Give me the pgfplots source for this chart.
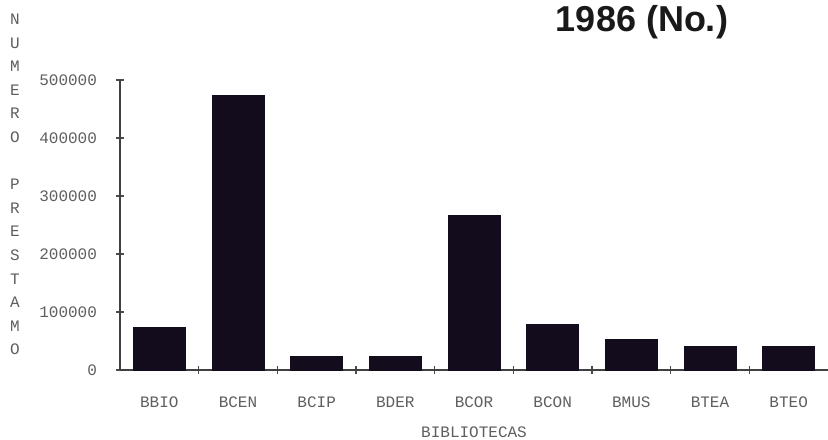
\documentclass[border=0pt]{standalone}
\usepackage{fontspec}
\setmainfont{Liberation Sans}
\setmonofont{Liberation Mono}
\usepackage{pgfplots}
\pgfplotsset{compat=1.18}
\definecolor{barc}{RGB}{18,12,28}
\definecolor{txt}{RGB}{95,95,95}
\begin{document}
\begin{tikzpicture}
\useasboundingbox (0,0) rectangle (414pt,219.5pt);
\begin{axis}[
  at={(60pt,34.5pt)}, anchor=south west,
  scale only axis, width=354pt, height=145pt,
  xmin=-0.5, xmax=8.5, ymin=0, ymax=500000,
  axis x line*=bottom, axis y line*=left,
  axis line style={black!75, line width=0.7pt, -},
  xtick={0,...,8},
  xticklabels={BBIO,BCEN,BCIP,BDER,BCOR,BCON,BMUS,BTEA,BTEO},
  minor xtick={0.5,1.5,...,7.5},
  ytick={0,100000,200000,300000,400000,500000},
  yticklabels={0,100000,200000,300000,400000,500000},
  scaled y ticks=false,
  tick align=center,
  x tick style={draw=none},
  minor x tick style={draw=black!70, line width=0.6pt},
  minor tick length=4pt,
  y tick style={draw=black!70, line width=0.6pt},
  major tick length=4pt,
  ticklabel style={font=\ttfamily\fontsize{8}{9}\selectfont, text=txt},
  xticklabel style={yshift=-8pt},
  yticklabel style={xshift=-6pt},
  clip=false,
]
\addplot[ybar, bar width=0.66, fill=barc, draw=barc] coordinates {
  (0,73000) (1,474000) (2,23000) (3,24000) (4,267000)
  (5,79000) (6,53000) (7,40000) (8,40000)
};
\end{axis}
\node[font=\bfseries\fontsize{18}{20}\selectfont, text=black!90] at (321pt,208.5pt) {1986 (No.)};
\node[font=\ttfamily\fontsize{8}{9}\selectfont, text=txt] at (237pt,3.5pt) {BIBLIOTECAS};
\node[font=\ttfamily\fontsize{8}{11.8}\selectfont, text=txt, align=center, inner sep=0pt] at (7.5pt,127.25pt)
  {N\\U\\M\\E\\R\\O\\\mbox{}\\P\\R\\E\\S\\T\\A\\M\\O};
\end{tikzpicture}
\end{document}
